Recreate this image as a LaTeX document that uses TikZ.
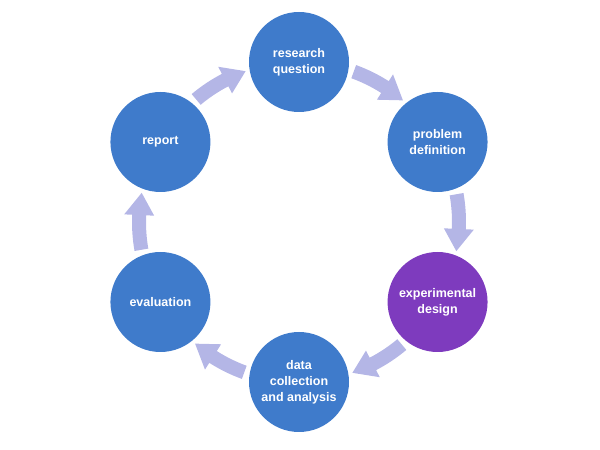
\documentclass[tikz,border=0pt]{standalone}
\usepackage{fontspec}
\setmainfont{Liberation Sans}
\begin{document}
\begin{tikzpicture}[x=1pt,y=1pt,
  stage/.style={circle,minimum size=100pt,inner sep=0pt,fill=stageblue,text=white,align=center,font=\fontsize{12.5}{16}\selectfont\bfseries},
  cyc/.style={fill=arrowcol}]
\definecolor{stageblue}{HTML}{3F7BCB}
\definecolor{stagepurple}{HTML}{7E3BBE}
\definecolor{arrowcol}{HTML}{B4B6E6}
\useasboundingbox (0,0) rectangle (600,450);
\begin{scope}[shift={(299,228)}]
\foreach \m in {60,0,-60,-120,180,120}{
  \pgfmathsetmacro\s{\m+10}
  \pgfmathsetmacro\b{\m-2.5}
  \pgfmathsetmacro\t{\m-10.5}
  \fill[cyc] (\s:167) arc[start angle=\s, end angle=\b, radius=167pt] -- (\b:175) -- (\t:160) -- (\b:145) -- (\b:153) arc[start angle=\b, end angle=\s, radius=153pt] -- cycle;
}
\node[stage] (rq) at (90:160) {research\\question};
\node[stage] (pd) at (30:160) {problem\\definition};
\node[stage,fill=stagepurple] (ed) at (-30:160) {experimental\\design};
\node[stage] (dc) at (-90:160) {data\\collection\\and analysis};
\node[stage] (ev) at (-150:160) {evaluation};
\node[stage] (rp) at (150:160) {report};
\end{scope}
\end{tikzpicture}
\end{document}
